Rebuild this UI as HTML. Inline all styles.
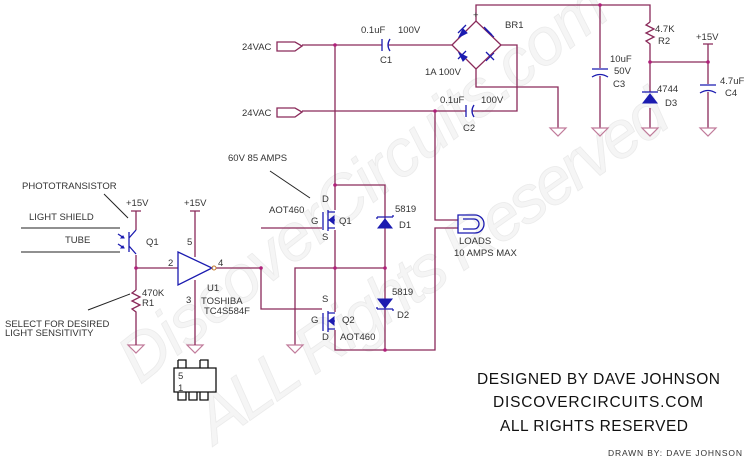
<!DOCTYPE html>
<html><head><meta charset="utf-8"><style>
html,body{margin:0;padding:0;background:#fff;}
svg{display:block;}
text{font-family:"Liberation Sans",sans-serif;}
.w{stroke:#8a2a5a;stroke-width:1.3;fill:none;}
.b{stroke:#1b1bb0;stroke-width:1.3;fill:none;}
.bf{fill:#1b1bb0;stroke:#1b1bb0;stroke-width:1;}
.l{font-size:9.5px;fill:#333;}
.j{fill:#b0207a;}
.g{stroke:#c07a9a;stroke-width:1.2;fill:none;}
</style></head><body>
<svg width="750" height="464" viewBox="0 0 750 464" xmlns="http://www.w3.org/2000/svg">
<!-- watermark -->
<g fill="#f5f5f5" stroke="#ebebeb" stroke-width="0.8" font-family="Liberation Serif,serif" font-style="italic" font-size="66">
<text x="140" y="385" transform="rotate(-38 140 385)" textLength="600">DiscoverCircuits.com</text>
<text x="215" y="445" transform="rotate(-35 215 445)" textLength="560">ALL Rights Reserved</text>
</g>
<!-- 24VAC inputs -->
<text class="l" x="242" y="50">24VAC</text>
<path class="w" d="M277 42 H295 L302 46 L295 51 H277 Z"/>
<text class="l" x="242" y="116">24VAC</text>
<path class="w" d="M277 108 H295 L302 112 L295 117 H277 Z"/>
<path class="w" d="M302 45 H382 M388 45 H452"/>
<path class="w" d="M302 111 H466 M472 111 H517 V45 H501"/>
<path class="w" d="M335 45 V210 M335 230 V312 M335 330 V350 H435 V228 H458"/>
<path class="w" d="M435 111 V220 H458"/>
<path class="w" d="M335 185 H385 V350"/>
<path class="w" d="M295 345 V268 H385"/>
<path class="w" d="M261 228 H322 M261 268 V309 H322"/>
<!-- C1 -->
<path class="b" d="M382 39 V51"/><path class="b" d="M390 39 Q386 45 390 51"/>
<text class="l" x="361" y="33">0.1uF</text><text class="l" x="398" y="33">100V</text><text class="l" x="380" y="63">C1</text>
<!-- C2 -->
<path class="b" d="M466 105 V117"/><path class="b" d="M474 105 Q470 111 474 117"/>
<text class="l" x="440" y="103">0.1uF</text><text class="l" x="481" y="103">100V</text><text class="l" x="463" y="131">C2</text>
<!-- bridge -->
<path class="w" d="M452 45 L476 21 L501 45 L476 69 Z"/>
<path class="w" d="M476 21 V5 H650 V22 M476 69 V87 H558 V128"/>
<g class="bf">
<path d="M459 37 L467 33 L463 29 Z"/><path d="M485 29 L494 37 L489 33 Z"/>
<path d="M459 53 L463 61 L467 57 Z"/><path d="M486 61 L494 53 L490 57 Z"/>
</g>
<path class="b" d="M458 33 L466 25 M484 27 L492 35 M458 59 L466 51 M486 52 L494 60"/>
<text class="l" x="505" y="28">BR1</text><text class="l" x="473" y="18">+</text>
<text class="l" x="425" y="75">1A 100V</text>
<!-- C3 -->
<path class="w" d="M600 5 V68 M600 76 V128"/>
<path class="b" d="M592 69 H608 M592 77 Q600 72 608 77"/>
<text class="l" x="610" y="62">10uF</text><text class="l" x="614" y="74">50V</text><text class="l" x="613" y="87">C3</text>
<!-- R2 -->
<path class="w" d="M650 22 L646 25 L654 29 L646 33 L654 37 L646 41 L650 44 V92 M650 108 V128"/>
<text class="l" x="655" y="32">4.7K</text><text class="l" x="658" y="44">R2</text>
<path class="w" d="M650 62 H708 M708 44 V84 M708 92 V128 M703 44 H713"/>
<text class="l" x="696" y="40">+15V</text>
<path class="b" d="M700 85 H716 M700 93 Q708 88 716 93"/>
<text class="l" x="720" y="84">4.7uF</text><text class="l" x="725" y="96">C4</text>
<!-- D3 -->
<path class="bf" d="M643 103 H657 L650 94 Z"/><path class="b" d="M642 92 H658"/>
<text class="l" x="657" y="92">4744</text><text class="l" x="665" y="106">D3</text>
<!-- grounds -->
<g class="g">
<path d="M550 128 H566 L558 136 Z"/><path d="M592 128 H608 L600 136 Z"/><path d="M642 128 H658 L650 136 Z"/><path d="M700 128 H716 L708 136 Z"/>
<path d="M128 345 H144 L136 353 Z"/><path d="M187 345 H203 L195 353 Z"/><path d="M287 345 H303 L295 353 Z"/>
</g>
<!-- Q1 MOSFET -->
<path class="b" d="M323 212 V230 M328 210 V231 M328 212 H335 M328 228 H335 M328 220 H335"/>
<path class="bf" d="M329 220 L334 216 L334 224 Z"/>
<text class="l" x="322" y="202">D</text><text class="l" x="311" y="224">G</text><text class="l" x="339" y="224">Q1</text><text class="l" x="322" y="240">S</text>
<text class="l" x="269" y="213">AOT460</text>
<text class="l" x="228" y="161">60V 85 AMPS</text>
<path d="M270 171 L310 198" stroke="#222" stroke-width="1"/>
<!-- Q2 -->
<path class="b" d="M323 313 V331 M328 311 V332 M328 313 H335 M328 329 H335 M328 321 H335"/>
<path class="bf" d="M329 321 L334 317 L334 325 Z"/>
<text class="l" x="322" y="302">S</text><text class="l" x="311" y="323">G</text><text class="l" x="342" y="323">Q2</text><text class="l" x="322" y="340">D</text>
<text class="l" x="340" y="340">AOT460</text>
<!-- D1, D2 -->
<path class="bf" d="M378 228 H392 L385 219 Z"/><path class="b" d="M377 217 H393 M377 217 V219 M393 217 V215"/>
<text class="l" x="395" y="212">5819</text><text class="l" x="399" y="228">D1</text>
<path class="bf" d="M378 299 H392 L385 308 Z"/><path class="b" d="M377 309 H393 M377 309 V307 M393 309 V311"/>
<text class="l" x="392" y="295">5819</text><text class="l" x="397" y="318">D2</text>
<!-- loads -->
<path class="b" d="M458 215 H475 A9 9 0 0 1 475 233 H458 Z M463 219 H474 A5 5 0 0 1 474 229 H463"/>
<text class="l" x="459" y="244">LOADS</text><text class="l" x="454" y="256">10 AMPS MAX</text>
<!-- phototransistor -->
<text class="l" x="22" y="189">PHOTOTRANSISTOR</text>
<path d="M104 194 L128 218" stroke="#222" stroke-width="1"/>
<text class="l" x="29" y="220">LIGHT SHIELD</text>
<path d="M21 228 H120" stroke="#222" stroke-width="1"/>
<text class="l" x="65" y="243">TUBE</text>
<path d="M21 252 H120" stroke="#222" stroke-width="1"/>
<text class="l" x="126" y="206">+15V</text>
<path class="w" d="M131 211 H141 M136 211 V230 M136 255 V290 M136 268 H178"/>
<path class="b" d="M129 232 V252 M129 238 L136 230 M129 246 L136 254"/>
<path class="b" d="M118 234 L124 238 M118 244 L124 248"/>
<path class="bf" d="M124 238 L121 238 L123 236 Z M124 248 L121 248 L123 246 Z"/>
<text class="l" x="146" y="245">Q1</text>
<path class="w" d="M136 290 L132 293 L140 297 L132 301 L140 305 L132 309 L136 312 V345"/>
<text class="l" x="142" y="296">470K</text><text class="l" x="142" y="306">R1</text>
<path d="M88 310 L130 294" stroke="#222" stroke-width="1"/>
<text class="l" x="5" y="327">SELECT FOR DESIRED</text><text class="l" x="5" y="336">LIGHT SENSITIVITY</text>
<!-- U1 -->
<text class="l" x="184" y="206">+15V</text>
<path class="w" d="M190 211 H200 M195 211 V257 M195 280 V345 M216 268 H261"/>
<path class="b" d="M178 252 L212 268 L178 285 Z"/><circle cx="214" cy="268" r="2" fill="none" stroke="#c07a30"/>
<text class="l" x="168" y="266">2</text><text class="l" x="218" y="266">4</text>
<text class="l" x="187" y="245">5</text><text class="l" x="186" y="303">3</text>
<text class="l" x="207" y="291">U1</text>
<text class="l" x="201" y="304">TOSHIBA</text><text class="l" x="204" y="314">TC4S584F</text>
<!-- footprint -->
<path d="M174 368 H216 V392 H174 Z M178 360 H186 V368 M178 360 V368 M200 360 H208 V368 M200 360 V368 M178 392 V400 H186 V392 M189 392 V400 H197 V392 M200 392 V400 H208 V392" stroke="#111" stroke-width="1.3" fill="none"/>
<text class="l" x="178" y="379">5</text><text class="l" x="178" y="391">1</text>
<!-- junctions -->
<g class="j">
<circle cx="335" cy="45" r="1.8"/><circle cx="435" cy="111" r="1.8"/><circle cx="600" cy="5" r="1.8"/><circle cx="650" cy="62" r="1.8"/><circle cx="708" cy="62" r="1.8"/>
<circle cx="335" cy="185" r="1.8"/><circle cx="335" cy="268" r="1.8"/><circle cx="385" cy="268" r="1.8"/><circle cx="385" cy="350" r="1.8"/><circle cx="261" cy="268" r="1.8"/><circle cx="136" cy="268" r="1.8"/>
</g>
<!-- title -->
<g font-family="Liberation Sans,sans-serif" fill="#111" font-size="15.5">
<text x="477" y="384" textLength="243">DESIGNED BY DAVE JOHNSON</text>
<text x="493" y="407" textLength="210">DISCOVERCIRCUITS.COM</text>
<text x="500" y="431" textLength="188">ALL RIGHTS RESERVED</text>
</g>
<text x="608" y="456" font-size="8.5" fill="#333" textLength="134">DRAWN BY: DAVE JOHNSON</text>
</svg>
</body></html>
